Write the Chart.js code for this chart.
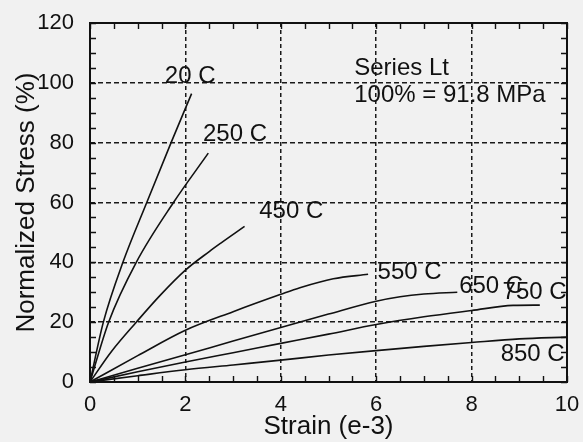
<!DOCTYPE html>
<html>
<head>
<meta charset="utf-8">
<script src="https://cdn.jsdelivr.net/npm/chart.js@4.4.1/dist/chart.umd.min.js"></script>
<style>
  html, body { margin: 0; padding: 0; background: #f1f1f1; }
  #wrap { width: 583px; height: 442px; position: relative; }
</style>
</head>
<body>
<div id="wrap"><canvas id="stressChart" width="583" height="442"></canvas></div>
<script>
// strain values (e-3) and normalized stress (%) for each test temperature
const strain20 = [0, 0.28, 0.69, 1.19, 1.70, 2.13];
const stress20 = [0, 20, 40, 60, 80, 96.4];

const strain250 = [0, 0.39, 0.97, 1.75, 2.48];
const stress250 = [0, 20, 40, 60, 76.5];

const strain450 = [0, 0.45, 0.97, 1.46, 2.0, 2.5, 2.75, 3.24];
const stress450 = [0, 10.2, 20, 28.8, 37.4, 43.6, 46.5, 52];

const strain550 = [0, 1, 2, 3, 4, 4.4, 5.1, 5.83];
const stress550 = [0, 8.8, 17.3, 23.5, 29.3, 31.5, 34.5, 36];

const strain650 = [0, 1, 2, 3, 4, 5, 6, 6.5, 7, 7.7];
const stress650 = [0, 4.6, 9.1, 13.7, 18.2, 22.7, 27, 28.5, 29.4, 30];

const strain750 = [0, 1, 2, 3, 4, 5, 6, 7, 8, 8.87, 9.43];
const stress750 = [0, 3.4, 6.7, 9.8, 12.9, 16, 19.2, 21.8, 23.9, 25.6, 25.7];

const strain850 = [0, 1, 2, 3, 4, 5, 6, 7, 8, 9, 10];
const stress850 = [0, 2.1, 4.1, 5.7, 7.3, 9.0, 10.5, 11.9, 13.2, 14.4, 15];

const xTicks = [0, 2, 4, 6, 8, 10];
const yTicks = [0, 20, 40, 60, 80, 100, 120];

// curve labels, anchored in axis units
const curveLabels = [
    { text: '20 C',  x: 2.10, y: 102.1 },
    { text: '250 C', x: 3.04, y: 82.7 },
    { text: '450 C', x: 4.22, y: 57.0 },
    { text: '550 C', x: 6.70, y: 36.6 },
    { text: '650 C', x: 8.41, y: 32.0 },
    { text: '750 C', x: 9.32, y: 29.9 },
    { text: '850 C', x: 9.28, y: 9.1 }
];
const noteLines = ['Series Lt', '100% = 91.8 MPa'];

function toPoints(xs, ys) {
    return xs.map((x, i) => ({ x: x, y: ys[i] }));
}

function curve(label, xs, ys) {
    return {
        label: label,
        data: toPoints(xs, ys),
        borderColor: '#111',
        borderWidth: 1.6,
        pointRadius: 0,
        fill: false,
        cubicInterpolationMode: 'monotone'
    };
}

const FONT = '"Liberation Sans", Arial, Helvetica, sans-serif';

// frame, inward minor ticks on all four sides, and the text annotations
const frameAndNotes = {
    id: 'frameAndNotes',
    afterDatasetsDraw(chart) {
        const { ctx, chartArea: a, scales } = chart;
        const xs = scales.x, ys = scales.y;
        ctx.save();
        ctx.strokeStyle = '#111';
        ctx.lineWidth = 1.4;
        ctx.beginPath();
        for (let v = 0; v <= 10.001; v += 0.5) {
            const px = Math.round(xs.getPixelForValue(v)) + 0.5;
            ctx.moveTo(px, a.bottom); ctx.lineTo(px, a.bottom - 6);
            ctx.moveTo(px, a.top); ctx.lineTo(px, a.top + 6);
        }
        for (let v = 0; v <= 120.001; v += 5) {
            const py = Math.round(ys.getPixelForValue(v)) + 0.5;
            ctx.moveTo(a.left, py); ctx.lineTo(a.left + 6, py);
            ctx.moveTo(a.right, py); ctx.lineTo(a.right - 6, py);
        }
        ctx.stroke();

        ctx.lineWidth = 2;
        ctx.strokeRect(a.left, a.top, a.right - a.left, a.bottom - a.top);

        ctx.fillStyle = '#111';
        ctx.font = '24px ' + FONT;
        ctx.textAlign = 'center';
        ctx.textBaseline = 'middle';
        curveLabels.forEach(l => {
            ctx.fillText(l.text, xs.getPixelForValue(l.x), ys.getPixelForValue(l.y));
        });

        ctx.textAlign = 'left';
        ctx.textBaseline = 'alphabetic';
        ctx.fillText(noteLines[0], xs.getPixelForValue(5.54), ys.getPixelForValue(102.6));
        ctx.fillText(noteLines[1], xs.getPixelForValue(5.54), ys.getPixelForValue(93.6));
        ctx.restore();
    }
};

new Chart(document.getElementById('stressChart'), {
    type: 'line',
    data: {
        datasets: [
            curve('20 C', strain20, stress20),
            curve('250 C', strain250, stress250),
            curve('450 C', strain450, stress450),
            curve('550 C', strain550, stress550),
            curve('650 C', strain650, stress650),
            curve('750 C', strain750, stress750),
            curve('850 C', strain850, stress850)
        ]
    },
    options: {
        responsive: false,
        animation: false,
        layout: { padding: { left: 6, right: 16, top: 23, bottom: 0 } },
        plugins: {
            legend: { display: false },
            tooltip: { enabled: false }
        },
        scales: {
            x: {
                type: 'linear',
                min: 0,
                max: 10,
                afterBuildTicks: s => { s.ticks = xTicks.map(v => ({ value: v })); },
                afterFit: s => { s.height = 60; s.paddingLeft = 0; s.paddingRight = 0; },
                ticks: {
                    color: '#111',
                    font: { family: FONT, size: 22 },
                    padding: 10
                },
                grid: {
                    color: '#1a1a1a',
                    lineWidth: 1.5,
                    drawTicks: false
                },
                border: { display: false, dash: [4, 3] },
                title: {
                    display: true,
                    text: 'Strain (e-3)',
                    color: '#111',
                    font: { family: FONT, size: 26 },
                    padding: { top: 0, bottom: 0 }
                }
            },
            y: {
                type: 'linear',
                min: 0,
                max: 120,
                afterBuildTicks: s => { s.ticks = yTicks.map(v => ({ value: v })); },
                afterFit: s => { s.width = 84; s.paddingTop = 0; s.paddingBottom = 0; },
                ticks: {
                    color: '#111',
                    font: { family: FONT, size: 22 },
                    padding: 16
                },
                grid: {
                    color: '#1a1a1a',
                    lineWidth: 1.5,
                    drawTicks: false
                },
                border: { display: false, dash: [5, 3] },
                title: {
                    display: true,
                    text: 'Normalized Stress (%)',
                    color: '#111',
                    font: { family: FONT, size: 26 },
                    padding: { top: 5, bottom: 0 }
                }
            }
        }
    },
    plugins: [frameAndNotes]
});
</script>
</body>
</html>
